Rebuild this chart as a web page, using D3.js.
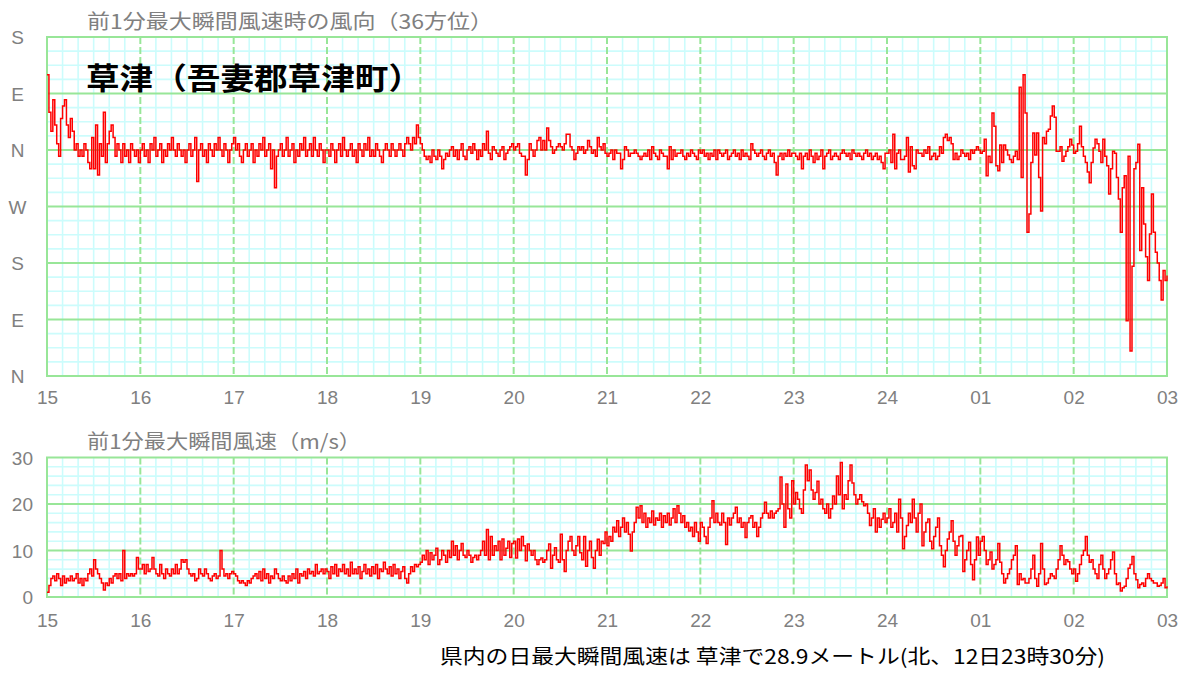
<!DOCTYPE html>
<html><head><meta charset="utf-8">
<script src="https://cdn.jsdelivr.net/npm/d3@7"></script>
<style>html,body{margin:0;padding:0;background:#fff}svg{display:block}</style>
</head><body><svg id="c" width="1181" height="673"></svg>
<script>
// ---------- data ----------
const dayLabels = ["15","16","17","18","19","20","21","22","23","24","01","02","03"];
const dirTickValues = [0, 90, 180, 270, 360, 450, 540];
const dirTickLabels = ["N","E","S","W","N","E","S"];
const speedTicks = [0, 10, 20, 30];

// wind direction (degrees, unwrapped: N=0,E=90,S=180,W=270,N=360,E=450,S=540), 30-min values per day
const directionByDay = [
  [480,420,390,440,400,370,350,410,430,440,400,380,410,390,360,370,350,360,350,370,360,340,330,380,330,400,320,370,350,420,340,370,390,400,380,350,370,360,340,370,350,360,340,370,360,350,360,340],
  [360,370,350,360,340,370,360,380,350,360,370,340,360,350,370,360,380,360,350,370,360,350,360,340,360,370,350,360,380,310,360,370,350,360,340,370,360,350,370,360,380,360,350,370,360,340,360,370],
  [380,360,370,350,340,360,370,350,360,370,340,360,350,370,360,380,350,360,370,330,360,300,350,360,370,350,360,380,350,360,370,340,360,350,370,360,380,350,360,370,350,380,360,350,370,360,340,360],
  [360,350,370,360,340,360,370,350,380,360,350,360,370,350,360,340,370,360,350,370,360,380,350,360,350,370,360,350,340,360,370,360,350,370,360,350,360,370,360,350,370,380,370,360,380,370,400,380],
  [370,360,350,345,350,340,360,350,345,360,350,330,345,355,350,360,365,350,360,345,360,370,350,345,360,365,355,370,360,345,360,350,370,360,390,355,345,365,360,355,350,360,365,345,355,360,365,370],
  [360,365,370,355,350,350,320,345,370,360,350,360,375,380,360,375,360,395,375,365,355,360,365,370,365,360,370,385,385,365,360,345,355,365,360,365,355,360,375,365,355,360,350,380,365,360,370,355],
  [350,355,360,345,360,355,355,330,345,365,360,350,355,355,360,355,350,345,350,355,350,360,345,365,355,350,345,360,355,350,350,330,365,345,360,350,355,355,360,350,345,355,350,360,355,350,345,360],
  [355,360,350,355,345,355,350,360,345,360,355,350,355,360,345,350,355,360,350,355,345,360,350,355,350,345,370,360,355,350,355,360,350,345,355,360,350,355,340,320,350,355,345,355,350,360,350,355],
  [355,350,345,355,330,350,355,345,360,350,340,355,345,350,360,330,350,355,360,345,350,355,350,345,355,360,355,350,355,345,360,355,350,355,350,345,355,360,350,355,345,350,355,345,350,340,330,355],
  [355,360,340,385,330,355,360,345,345,350,380,325,365,335,330,360,355,355,350,360,355,365,345,350,355,345,350,365,355,380,385,375,380,370,345,355,345,350,360,355,350,355,345,360,355,360,365,360],
  [355,358,377,319,350,340,419,398,335,327,368,340,368,360,352,345,340,350,358,345,460,316,480,419,229,258,340,387,352,387,316,263,380,370,390,393,414,430,412,358,358,365,342,350,358,365,377,368],
  [355,358,370,398,365,350,340,325,308,340,363,377,370,358,340,377,350,335,290,330,358,355,316,282,229,300,319,88,350,40,175,330,340,369,200,300,242,190,152,226,290,229,197,180,152,121,168,152]
];
const directionEnd = 160;

// max 1-minute gust speed (m/s), 30-min values per day
const speedByDay = [
  [1,2.5,4,4.5,3.5,5,4,2.5,4.5,3,4,3.5,4.5,3.5,4,5,3,4,2.5,4,3.5,5,6,4.5,8,6,5,4,3,1.5,3,2.5,4,3,4.5,5,4,5,3.5,10,4,5,4.5,5,4.5,5,8.5,6],
  [6,7,5,7,5.5,6,8.5,6,5,4.5,7,5,4,6,5,4.5,6,5,7,5,6,8,7.5,8,6,5,4.5,5,3.5,4,6,5,4.5,6,5,4,3.5,4.5,5,4,4.5,10,6,4.5,5,4,5,5.5],
  [5,4.5,3.5,3,3.5,3,2.5,3.5,3,4,4.5,5,4,5.5,3.5,6,4,5,3,4.5,4,6,5,4,3.5,4.5,3.5,3,4.5,3.5,5,4,6,3,5,4.5,5.5,4,6,5,5.5,4.5,7,5,5.5,6,5,6],
  [5.5,4,6.5,5,7,4.5,6,5.5,7,5,6,4.5,7.5,5,6,5,6.5,4,5.5,7,5,6,4.5,6.5,5,7,4,6,5.5,7.5,6,5,6.5,4.5,7,5,6,4,5.5,6.5,4,3,5,6.5,5.5,7,6.5,7],
  [7.5,9,8,10,7,9.5,8,9,10.5,7,8,10,9,7.5,10,8.5,12,9,11,8,10,11.5,9,8.5,10,9,7.5,8.5,9,8,9,10,12,9,14.5,8,13,9,11,10,12,8,12.5,9,10.5,12,8.5,11.5],
  [12,8.4,12.5,10,13,11,7.8,11.4,10,9,10,8,7,8,8.4,7.5,8,10,11.4,6.2,9,10.6,8,7.5,13.5,8,5.5,10,12,13,10,9,11,13,9.5,8,13,6.6,10,12,8.5,6.2,10,12.4,9,12,11.5,14],
  [11,13,12,15,14,16.4,13,15,17,14,16,13.5,9.9,14,16,19.3,17,19.6,16,18,15,17,16,18.5,15.5,17,16.5,18,15,17.5,16,18,15.5,17,19,16,19.6,18,16,17.5,15,16,14.2,15,13,16,14,12],
  [16,15,13,11.5,15,17,20.7,16,18,16,15.5,18,16,11.3,17,15.5,17,18,19.3,16,17,15,16,12.8,16,17,17.5,15,16,13,15,17,18,20.4,18,17,18.5,17,18,18.5,19,25.8,20,15,24.3,19,17,25],
  [20,22.5,21,19,18,23,28.4,25,27.3,23,21,22.5,24.9,20,21,19,18,20,17,19,21.7,20,26,22,28.9,19,22,21,25,28.4,24.5,22,20,21,22,20.5,19.6,20,18,15.4,17,19,14,17,15,16.7,18,16],
  [17,19,15,16,18,14,21,17,10.4,13,15.4,18,16,21,17,14,18,20,11,14,16,16.8,12,10.4,13,15,17,11,9,6.5,10,12.5,14,16.4,12,9,11,13,13.2,5.5,8,10,11.8,7,3.7,8,12.9,9],
  [12,13,10,7,8,9.7,6,7,8,11.5,7.5,5,3,4,5,6,8,9,11,2.7,5,3.7,4,3,3,4,6,9,4,2.3,5,11.5,6,2.7,3,4,5,4.5,4,6,8,11,9,7,8,7.6,6,5],
  [6,3.4,5,7,9,10,13,9,7.5,8,6,5,4,7,9,6,4,5,6,8,9.7,5,2.7,3,1.3,2,2.3,4,6.2,7,8.7,5,3.7,2,2.7,3,2.3,4,5,4,3.5,3,3,2.3,2.5,3,4,2]
];
const speedEnd = 2.3;

const titleDirection = "前1分最大瞬間風速時の風向（36方位）";
const titleSpeed = "前1分最大瞬間風速（m/s）";
const stationTitle = "草津（吾妻郡草津町）";
const footerText = "県内の日最大瞬間風速は 草津で28.9メートル(北、12日23時30分)";

// ---------- drawing ----------
const svg = d3.select("#c");
const L = 47, R = 1167;
const x = d3.scaleLinear().domain([0, 12]).range([L, R]);
const yDir = d3.scaleLinear().domain([0, 540]).range([376, 37]);
const ySpd = d3.scaleLinear().domain([0, 30]).range([597, 457.5]);

const MAJOR = "#98e698", MINOR = "#ccfcfc", LABEL = "#808080";

function toPoints(byDay, endVal) {
  const pts = [];
  byDay.forEach((arr, d) => arr.forEach((v, j) => pts.push([d + j / arr.length, v])));
  pts.push([byDay.length, endVal]);
  return pts;
}

function grid(y, minorStep, majorStep) {
  const [d0, d1] = y.domain();
  const g = svg.append("g");
  const top = y(d1), bot = y(d0);
  const eps = 1e-6;
  const minorX = d3.range(0, 12 * 6 + 1).map(k => k / 6).filter(v => Math.abs(v - Math.round(v)) > eps);
  const minorY = d3.range(d0, d1 + eps, minorStep).filter(v => Math.abs(v / majorStep - Math.round(v / majorStep)) > eps);
  const majorY = d3.range(d0 + majorStep, d1 - eps, majorStep);
  const majorX = d3.range(1, 12);
  g.selectAll(".mx").data(minorX).join("line")
    .attr("x1", d => x(d)).attr("x2", d => x(d)).attr("y1", top).attr("y2", bot)
    .attr("stroke", MINOR).attr("stroke-width", 1.6);
  g.selectAll(".my").data(minorY).join("line")
    .attr("x1", L).attr("x2", R).attr("y1", d => y(d)).attr("y2", d => y(d))
    .attr("stroke", MINOR).attr("stroke-width", 1.6);
  g.selectAll(".Mx").data(majorX).join("line")
    .attr("x1", d => x(d)).attr("x2", d => x(d)).attr("y1", top).attr("y2", bot)
    .attr("stroke", MAJOR).attr("stroke-width", 2).attr("stroke-dasharray", "7,3");
  g.selectAll(".My").data(majorY).join("line")
    .attr("x1", L).attr("x2", R).attr("y1", d => y(d)).attr("y2", d => y(d))
    .attr("stroke", MAJOR).attr("stroke-width", 2);
  g.append("rect").attr("x", L).attr("y", top).attr("width", R - L).attr("height", bot - top)
    .attr("fill", "none").attr("stroke", MAJOR).attr("stroke-width", 2);
}

function drawLine(y, pts) {
  svg.append("path").datum(pts)
    .attr("fill", "none").attr("stroke", "#ff0000").attr("stroke-width", 1.5)
    .attr("stroke-linejoin", "miter")
    .attr("d", d3.line().x(d => x(d[0])).y(d => y(d[1])).curve(d3.curveStepAfter));
}

function styleAxis(g) {
  g.select(".domain").remove();
  g.selectAll("text").attr("fill", LABEL).attr("font-family", "Liberation Sans, Arial, sans-serif")
    .attr("font-size", 19);
}

// top panel
grid(yDir, 22.5, 90);
drawLine(yDir, toPoints(directionByDay, directionEnd));
const ax1 = svg.append("g").attr("transform", `translate(0,${yDir(0)})`)
  .call(d3.axisBottom(x).tickValues(d3.range(13)).tickFormat((d, i) => dayLabels[i]).tickSize(0));
styleAxis(ax1);
ax1.selectAll("text").attr("y", 21).attr("dy", "0.36em");
const ay1 = svg.append("g").attr("transform", "translate(17.5,0)")
  .call(d3.axisLeft(yDir).tickValues(dirTickValues).tickFormat((d, i) => dirTickLabels[i]).tickSize(0));
styleAxis(ay1);
ay1.selectAll("text").attr("x", 0).attr("text-anchor", "middle").attr("dy", "0.36em");

// bottom panel
grid(ySpd, 2, 10);
drawLine(ySpd, toPoints(speedByDay, speedEnd));
const ax2 = svg.append("g").attr("transform", `translate(0,${ySpd(0)})`)
  .call(d3.axisBottom(x).tickValues(d3.range(13)).tickFormat((d, i) => dayLabels[i]).tickSize(0));
styleAxis(ax2);
ax2.selectAll("text").attr("y", 23).attr("dy", "0.36em");
const ay2 = svg.append("g").attr("transform", "translate(33,0)")
  .call(d3.axisLeft(ySpd).tickValues(speedTicks).tickSize(0));
styleAxis(ay2);
ay2.selectAll("text").attr("x", 0).attr("text-anchor", "end").attr("dy", "0.36em");

// titles
const cjk = "'Noto Sans CJK JP', 'Noto Sans CJK SC', sans-serif";
svg.append("text").attr("x", 87).attr("y", 22).attr("dy", "0.35em")
  .attr("font-family", cjk).attr("font-size", 20).attr("fill", LABEL)
  .attr("textLength", 406).attr("lengthAdjust", "spacingAndGlyphs").text(titleDirection);
svg.append("text").attr("x", 87).attr("y", 442).attr("dy", "0.35em")
  .attr("font-family", cjk).attr("font-size", 20).attr("fill", LABEL)
  .attr("textLength", 274).attr("lengthAdjust", "spacingAndGlyphs").text(titleSpeed);
svg.append("text").attr("x", 86).attr("y", 78).attr("dy", "0.36em")
  .attr("font-family", cjk).attr("font-size", 30).attr("font-weight", "bold").attr("fill", "#000")
  .attr("textLength", 336).attr("lengthAdjust", "spacingAndGlyphs").text(stationTitle);
svg.append("text").attr("x", 440).attr("y", 657).attr("dy", "0.36em")
  .attr("font-family", cjk).attr("font-size", 20).attr("fill", "#000")
  .attr("textLength", 665).attr("lengthAdjust", "spacingAndGlyphs").text(footerText);
</script>
</body></html>
